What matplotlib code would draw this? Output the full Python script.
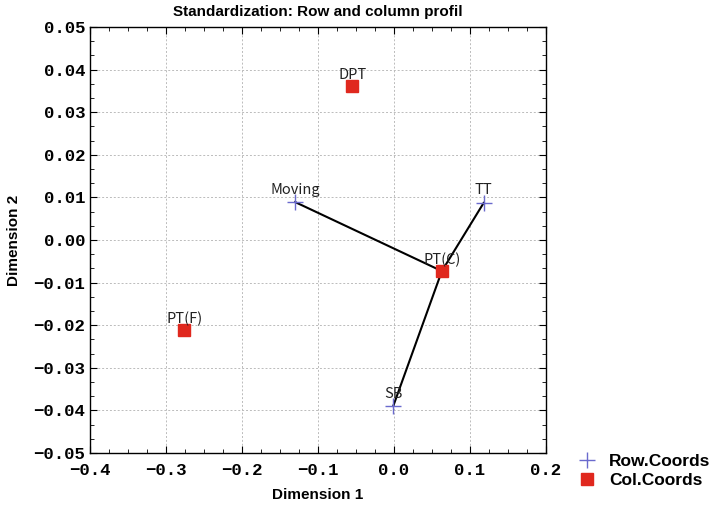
import matplotlib
matplotlib.use("Agg")
import matplotlib.pyplot as plt
from matplotlib.ticker import MultipleLocator, FuncFormatter

row_labels = ["Moving", "TT", "SB"]
row_x = [-0.130, 0.118, -0.001]
row_y = [0.0089, 0.0087, -0.0390]

col_labels = ["DPT", "PT(C)", "PT(F)"]
col_x = [-0.055, 0.063, -0.276]
col_y = [0.0362, -0.0073, -0.0212]

hub = "PT(C)"

fig = plt.figure(figsize=(7.26, 5.05), dpi=100)
ax = fig.add_axes([0.124, 0.103, 0.628, 0.8435])

hx = col_x[col_labels.index(hub)]
hy = col_y[col_labels.index(hub)]
for x, y in zip(row_x, row_y):
    ax.plot([x, hx], [y, hy], color="black", lw=1.5, zorder=2)

ax.plot(row_x, row_y, ls="none", marker="+", ms=11, mew=1.0, color="#6a6acd",
        label="Row.Coords", zorder=3)
ax.plot(col_x, col_y, ls="none", marker="s", ms=8, color="#e0281e",
        label="Col.Coords", zorder=3)

lab_font = dict(family=["Noto Sans CJK KR", "DejaVu Sans"], fontsize=10.5, color="#222222")
for lbl, x, y in zip(row_labels, row_x, row_y):
    ax.annotate(lbl, (x, y), xytext=(0, 4), textcoords="offset points",
                ha="center", va="bottom", **lab_font)
for lbl, x, y in zip(col_labels, col_x, col_y):
    ax.annotate(lbl, (x, y), xytext=(0, 3), textcoords="offset points",
                ha="center", va="bottom", **lab_font)


def fmt(dec):
    def f(v, pos):
        s = f"{v:.{dec}f}"
        if float(s) == 0:
            s = f"{0:.{dec}f}"
        return s.replace("-", "\u2212")
    return FuncFormatter(f)


ax.set_xlim(-0.4, 0.2)
ax.set_ylim(-0.05, 0.05)
ax.xaxis.set_major_locator(MultipleLocator(0.1))
ax.xaxis.set_minor_locator(MultipleLocator(0.025))
ax.yaxis.set_major_locator(MultipleLocator(0.01))
ax.yaxis.set_minor_locator(MultipleLocator(0.01 / 3))
ax.xaxis.set_major_formatter(fmt(1))
ax.yaxis.set_major_formatter(fmt(2))
ax.grid(True, which="major", color="#bbbbbb", ls=(0, (2, 2)), lw=0.7)
ax.tick_params(which="both", direction="in", top=True, right=True)
ax.tick_params(which="major", length=5, labelsize=12.5)
ax.tick_params(axis="x", which="major", pad=7.5)
ax.tick_params(which="minor", length=3)
for lab in ax.get_xticklabels() + ax.get_yticklabels():
    lab.set_family("Liberation Mono")
    lab.set_fontweight("bold")
for s in ax.spines.values():
    s.set_linewidth(1.0)

ax.set_xlabel("Dimension 1", fontsize=11, fontweight="bold", family="Liberation Sans", labelpad=7)
ax.set_ylabel("Dimension 2", fontsize=11, fontweight="bold", family="Liberation Sans", labelpad=9)
ax.set_title("Standardization: Row and column profil", fontsize=11, fontweight="bold",
             family="Liberation Sans", pad=8)

leg = fig.legend(loc="lower left", bbox_to_anchor=(0.772, 0.003), frameon=False,
                 prop=dict(family="Liberation Sans", weight="bold", size=12.5),
                 handletextpad=0.7, labelspacing=0.2, handlelength=1.2)

fig.savefig("out.png", dpi=100)
